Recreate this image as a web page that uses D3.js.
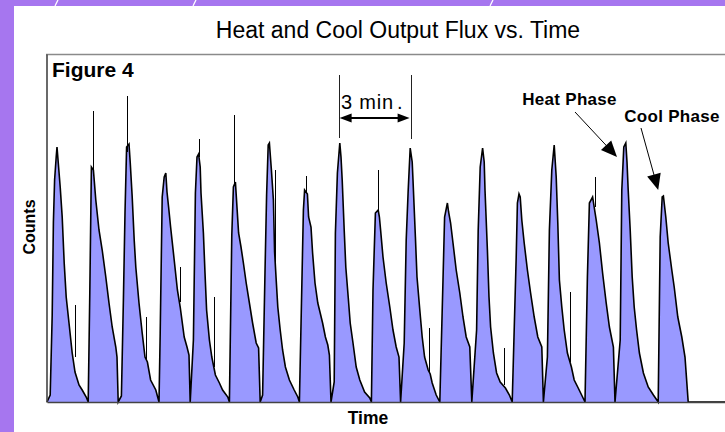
<!DOCTYPE html>
<html>
<head>
<meta charset="utf-8">
<script src="https://cdn.jsdelivr.net/npm/d3@7"></script>
<style>
  body { margin: 0; background: #fff; }
  svg { display: block; font-family: "Liberation Sans", Arial, Helvetica, sans-serif; }
</style>
</head>
<body>
<div id="chart"></div>
<script>
// points [seconds, counts], one list per phase
const heatPhases = [
  [[8,7],[13,87],[16,180],[19,222],[23,245],[25,255],[29,235],[33,215],[38,185],[43,139],[48,105],[55,79],[63,49],[70,30],[80,17],[88,12],[98,5],[103,0]],
  [[186,6],[191,102],[195,189],[199,255],[205,258],[208,240],[213,205],[218,162],[222,135],[230,99],[238,69],[245,45],[251,40],[259,22],[272,12],[280,0]],
  [[366,62],[371,209],[375,245],[379,248],[383,235],[385,209],[391,169],[395,129],[399,92],[406,62],[412,45],[421,27],[431,19],[439,12],[452,5],[456,0]],
  [[539,7],[545,130],[549,207],[553,257],[556,259],[561,232],[566,202],[569,150],[573,122],[577,95],[583,72],[589,52],[596,35],[606,22],[618,12],[627,5],[631,0]],
  [[718,20],[721,169],[726,229],[732,259],[735,245],[738,222],[743,172],[747,135],[753,105],[758,79],[765,59],[773,35],[782,22],[794,10],[807,4],[811,0]],
  [[893,59],[898,162],[903,212],[908,254],[913,240],[915,222],[921,165],[925,125],[932,92],[938,65],[944,45],[953,32],[958,28],[963,19],[973,7],[982,0]],
  [[1074,72],[1078,172],[1083,235],[1089,254],[1093,240],[1095,212],[1101,152],[1105,105],[1109,75],[1116,49],[1124,29],[1133,20],[1146,14],[1156,7],[1163,0]],
  [[1251,45],[1256,172],[1262,232],[1268,257],[1273,225],[1277,179],[1281,122],[1287,95],[1293,72],[1301,49],[1311,35],[1318,22],[1328,14],[1339,5],[1345,0]],
  [[1433,62],[1437,212],[1442,255],[1447,259],[1450,240],[1453,212],[1458,172],[1463,125],[1468,95],[1474,72],[1481,49],[1491,29],[1503,15],[1516,7],[1528,0]]
];

const coolPhases = [
  [[107,109],[111,235],[116,232],[122,202],[130,172],[138,152],[147,125],[155,99],[163,75],[172,55],[175,45],[178,0]],
  [[283,69],[288,205],[293,225],[297,229],[300,210],[304,195],[309,175],[318,142],[326,112],[333,95],[343,65],[350,55],[355,47],[358,0]],
  [[462,167],[466,215],[471,220],[479,169],[485,155],[491,139],[498,119],[506,99],[514,79],[523,59],[529,54],[533,0]],
  [[637,115],[641,192],[644,212],[651,208],[654,185],[660,175],[664,149],[670,119],[677,99],[683,89],[689,79],[696,65],[702,57],[706,47],[710,0]],
  [[815,112],[821,189],[828,192],[831,185],[834,172],[840,145],[848,119],[857,95],[865,72],[873,55],[880,45],[884,0]],
  [[990,122],[994,185],[1001,199],[1004,190],[1009,179],[1015,159],[1023,132],[1032,109],[1040,85],[1048,65],[1057,55],[1062,0]],
  [[1173,145],[1176,199],[1180,208],[1183,205],[1187,182],[1193,159],[1201,132],[1209,109],[1218,85],[1227,65],[1237,55],[1241,0]],
  [[1351,125],[1356,199],[1364,205],[1373,182],[1381,159],[1389,129],[1398,99],[1406,75],[1416,55],[1420,0]],
  [[1533,165],[1538,205],[1541,206],[1547,185],[1553,159],[1562,132],[1568,115],[1577,85],[1587,65],[1595,45],[1603,0]]
];

// single-channel bursts: [seconds, top count, count at its foot]
const spikes = [
  [69,97,45],[116,291,232],[199,306,250],[248,85,42],[333,135,100],[379,263,245],[418,105,35],
  [468,287,218],[570,232,140],[648,226,210],[828,232,190],[955,74,30],[1143,54,17],[1308,110,40],[1370,225,195]
];

const timeSpan = [0, 1695];   // seconds across the visible plot
const countSpan = [0, 348];

// annotations, in [seconds, counts]
const scaleBarStart = 729, scaleBarSeconds = 180;
const phaseLabels = [
  {text: "Heat Phase", at: [1188, 297], tail: [1320, 290], tip: [1425, 245]},
  {text: "Cool Phase", at: [1443, 280], tail: [1485, 274], tip: [1528, 212]}
];

const W = 725, H = 432;
const svg = d3.select("#chart").append("svg")
  .attr("width", W)
  .attr("height", H);

// purple page border
svg.append("rect").attr("x", 0).attr("y", 0).attr("width", W).attr("height", 6).attr("fill", "#a676ef");
svg.append("rect").attr("x", 0).attr("y", 0).attr("width", 14).attr("height", H).attr("fill", "#a676ef");
[57, 195, 492].forEach(sx => {
  svg.append("line")
    .attr("x1", sx - 2).attr("y1", 6).attr("x2", sx + 1).attr("y2", 0)
    .attr("stroke", "#fff").attr("stroke-width", 1.3);
});

var x = d3.scaleLinear().domain(timeSpan).range([47, 725]);
var y = d3.scaleLinear().domain(countSpan).range([402, 54]);

// build the whole trace, heat and cool alternating
let trace = [[0, 0]];
heatPhases.forEach((h, i) => {
  trace = trace.concat(h);
  if (coolPhases[i]) trace = trace.concat(coolPhases[i]);
});
trace.push([timeSpan[1], 0]);

var area = d3.area()
  .x(d => x(d[0]))
  .y0(y(0))
  .y1(d => y(d[1]));

var line = d3.line()
  .x(d => x(d[0]))
  .y(d => y(d[1]));

svg.append("path")
  .datum(trace)
  .attr("d", area)
  .attr("fill", "#9999ff");

svg.append("path")
  .datum(trace)
  .attr("d", line)
  .attr("fill", "none")
  .attr("stroke", "#000")
  .attr("stroke-width", 1.6)
  .attr("stroke-linejoin", "miter");

svg.append("g")
  .selectAll("line")
  .data(spikes)
  .join("line")
  .attr("x1", d => Math.round(x(d[0])) + 0.5)
  .attr("x2", d => Math.round(x(d[0])) + 0.5)
  .attr("y1", d => y(d[1]))
  .attr("y2", d => y(d[2]))
  .attr("stroke", "#000")
  .attr("stroke-width", 1.5)
  .attr("shape-rendering", "crispEdges");

// frame
svg.append("line")
  .attr("x1", 46).attr("x2", W).attr("y1", 54.5).attr("y2", 54.5)
  .attr("stroke", "#8a8a8a").attr("stroke-width", 1.6);

svg.append("g")
  .attr("transform", "translate(0,402)")
  .call(d3.axisBottom(x).ticks(0).tickSizeOuter(0))
  .select(".domain").attr("stroke", "#444").attr("stroke-width", 1.6);

svg.append("g")
  .attr("transform", "translate(46.5,0)")
  .call(d3.axisLeft(y).ticks(0).tickSizeOuter(0))
  .select(".domain").attr("stroke", "#444").attr("stroke-width", 1.6);

// titles
svg.append("text")
  .attr("x", 398).attr("y", 38)
  .attr("text-anchor", "middle")
  .style("font-size", "23px")
  .text("Heat and Cool Output Flux vs. Time");

svg.append("text")
  .attr("x", 52).attr("y", 77)
  .style("font-size", "21px").style("font-weight", "bold")
  .text("Figure 4");

svg.append("text")
  .attr("transform", "translate(35,227) rotate(-90)")
  .attr("text-anchor", "middle")
  .style("font-size", "16px").style("font-weight", "bold")
  .text("Counts");

svg.append("text")
  .attr("x", 368).attr("y", 424)
  .attr("text-anchor", "middle")
  .style("font-size", "17.5px").style("font-weight", "bold")
  .text("Time");

// 3 min. scale bar
function head(tipX, tipY, ang, len, half) {
  const bx = tipX - len * Math.cos(ang), by = tipY - len * Math.sin(ang);
  const px = -Math.sin(ang) * half, py = Math.cos(ang) * half;
  return [[tipX, tipY], [bx + px, by + py], [bx - px, by - py]];
}

const bx1 = x(scaleBarStart), bx2 = x(scaleBarStart + scaleBarSeconds);
[bx1, bx2].forEach((bx, i) => {
  svg.append("line")
    .attr("x1", Math.round(bx) + 0.5).attr("x2", Math.round(bx) + 0.5)
    .attr("y1", y(327)).attr("y2", y(264 - i))
    .attr("stroke", "#222").attr("stroke-width", 1);
});
const barY = y(284);
svg.append("line")
  .attr("x1", bx1 + 6).attr("x2", bx2 - 6)
  .attr("y1", barY).attr("y2", barY)
  .attr("stroke", "#000").attr("stroke-width", 1.8);
svg.append("polygon").attr("points", head(bx1 + 1, barY, Math.PI, 12, 4.5).join(" ")).attr("fill", "#000");
svg.append("polygon").attr("points", head(bx2 - 1, barY, 0, 12, 4.5).join(" ")).attr("fill", "#000");

svg.append("text")
  .attr("x", x(735)).attr("y", y(293))
  .style("font-size", "20px").style("letter-spacing", "0.8px")
  .text("3 min")
  .append("tspan").attr("dx", 3).text(".");

// phase labels and arrows
phaseLabels.forEach(p => {
  svg.append("text")
    .attr("x", x(p.at[0])).attr("y", y(p.at[1]))
    .style("font-size", "17px").style("font-weight", "bold")
    .style("letter-spacing", "0.3px")
    .text(p.text);

  const tx = x(p.tail[0]), ty = y(p.tail[1]);
  const hx = x(p.tip[0]), hy = y(p.tip[1]);
  const ang = Math.atan2(hy - ty, hx - tx);
  svg.append("line")
    .attr("x1", tx).attr("y1", ty)
    .attr("x2", hx - 10 * Math.cos(ang)).attr("y2", hy - 10 * Math.sin(ang))
    .attr("stroke", "#000").attr("stroke-width", 1);
  svg.append("polygon")
    .attr("points", head(hx, hy, ang, 16, 7).join(" "))
    .attr("fill", "#000");
});
</script>
</body>
</html>
